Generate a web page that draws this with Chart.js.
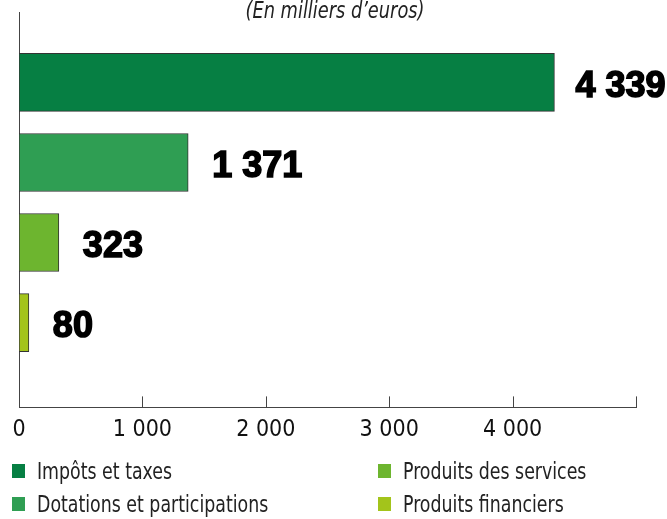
<!DOCTYPE html>
<html>
<head>
<meta charset="utf-8">
<script src="https://cdn.jsdelivr.net/npm/chart.js@4.4.1/dist/chart.umd.min.js"></script>
<style>
  html, body { margin: 0; padding: 0; background: #fff; }
  #wrap { position: relative; width: 667px; height: 519px; }
  #legend { position: absolute; left: 0; top: 0; width: 667px; height: 519px; pointer-events: none;
            font-family: 'Liberation Sans Narrow', 'DejaVu Sans Condensed', sans-serif; font-size: 23px; color: #222; }
  .item { position: absolute; white-space: nowrap; line-height: 26px; }
  .item span.box { position: absolute; left: 0; top: 6px; width: 13px; height: 14px; }
  .item span.txt { position: absolute; top: 0; left: 25px; transform: scaleX(0.84); transform-origin: 0 0; }
</style>
</head>
<body>
<div id="wrap">
  <canvas id="chart" width="667" height="519"></canvas>
  <div id="legend"></div>
</div>
<script>
// ===== DATA =====
const categories = ['Impôts et taxes', 'Dotations et participations', 'Produits des services', 'Produits financiers'];
const values = [4339, 1371, 323, 80];
const barColors = ['#067f43', '#2f9e53', '#6db52f', '#a3c41b'];
const xTicks = [0, 1000, 2000, 3000, 4000, 5000];
const subtitle = '(En milliers d\u2019euros)';

const fmt = v => String(v).replace(/\B(?=(\d{3})+(?!\d))/g, ' ');

// title + value labels + upward tick marks
const extras = {
    id: 'extras',
    afterDraw(chart) {
        const ctx = chart.ctx;
        const xs = chart.scales.x;
        ctx.save();
        // tick marks above the axis
        ctx.strokeStyle = '#444';
        ctx.lineWidth = 1;
        xTicks.forEach(t => {
            if (t === 0) return;
            const px = Math.round(xs.getPixelForValue(t)) + 0.5;
            ctx.beginPath();
            ctx.moveTo(px, xs.top);
            ctx.lineTo(px, xs.top - 11);
            ctx.stroke();
        });
        // subtitle (condensed look)
        ctx.save();
        ctx.translate(335, 12);
        ctx.scale(0.86, 1);
        ctx.font = 'italic 23px "Liberation Sans Narrow", "DejaVu Sans Condensed", sans-serif';
        ctx.fillStyle = '#222';
        ctx.textAlign = 'center';
        ctx.textBaseline = 'middle';
        ctx.fillText(subtitle, 0, 0);
        ctx.restore();
        // value labels
        ctx.font = 'bold 36px "Liberation Sans", Arial, sans-serif';
        ctx.textAlign = 'left';
        ctx.textBaseline = 'middle';
        ctx.fillStyle = '#000';
        ctx.strokeStyle = '#000';
        ctx.lineWidth = 1.6;
        chart.getDatasetMeta(0).data.forEach((bar, i) => {
            const tx = bar.x + (i === 0 ? 21 : 24), ty = bar.y + 5;
            ctx.strokeText(fmt(values[i]), tx, ty);
            ctx.fillText(fmt(values[i]), tx, ty);
        });
        ctx.restore();
    }
};

new Chart(document.getElementById('chart'), {
    type: 'bar',
    data: {
        datasets: [{
            data: values.map((v, i) => ({ x: v, y: i })),
            backgroundColor: barColors,
            borderColor: '#333',
            borderWidth: 1,
            borderSkipped: false,
            barThickness: 58
        }]
    },
    options: {
        indexAxis: 'y',
        responsive: false,
        animation: false,
        layout: { padding: { left: 19, right: 31, top: 12, bottom: 66 } },
        plugins: { legend: { display: false }, tooltip: { enabled: false } },
        scales: {
            x: {
                type: 'linear',
                min: 0,
                max: 5000,
                afterBuildTicks: s => { s.ticks = xTicks.map(v => ({ value: v })); },
                ticks: {
                    callback: v => (v === 5000 ? '' : fmt(v)),
                    font: { family: '"Liberation Sans Narrow", "DejaVu Sans Condensed", sans-serif', size: 23 },
                    color: '#111',
                    padding: 9,
                    maxRotation: 0,
                    autoSkip: false
                },
                grid: { display: false, drawTicks: false },
                border: { display: true, color: '#444', width: 1 }
            },
            y: {
                type: 'linear',
                reverse: true,
                offset: false,
                min: -0.88,
                max: 4.06,
                ticks: { display: false },
                grid: { display: false, drawTicks: false, offset: false },
                border: { display: true, color: '#444', width: 1 }
            }
        }
    },
    plugins: [extras]
});

// ===== LEGEND (two columns) =====
const legendPos = [[12, 458], [12, 491], [378, 458], [378, 491]];
const legendEl = document.getElementById('legend');
categories.forEach((c, i) => {
    const d = document.createElement('div');
    d.className = 'item';
    d.style.left = legendPos[i][0] + 'px';
    d.style.top = legendPos[i][1] + 'px';
    d.innerHTML = `<span class="box" style="background:${barColors[i]}"></span><span class="txt">${c}</span>`;
    legendEl.appendChild(d);
});
</script>
</body>
</html>
